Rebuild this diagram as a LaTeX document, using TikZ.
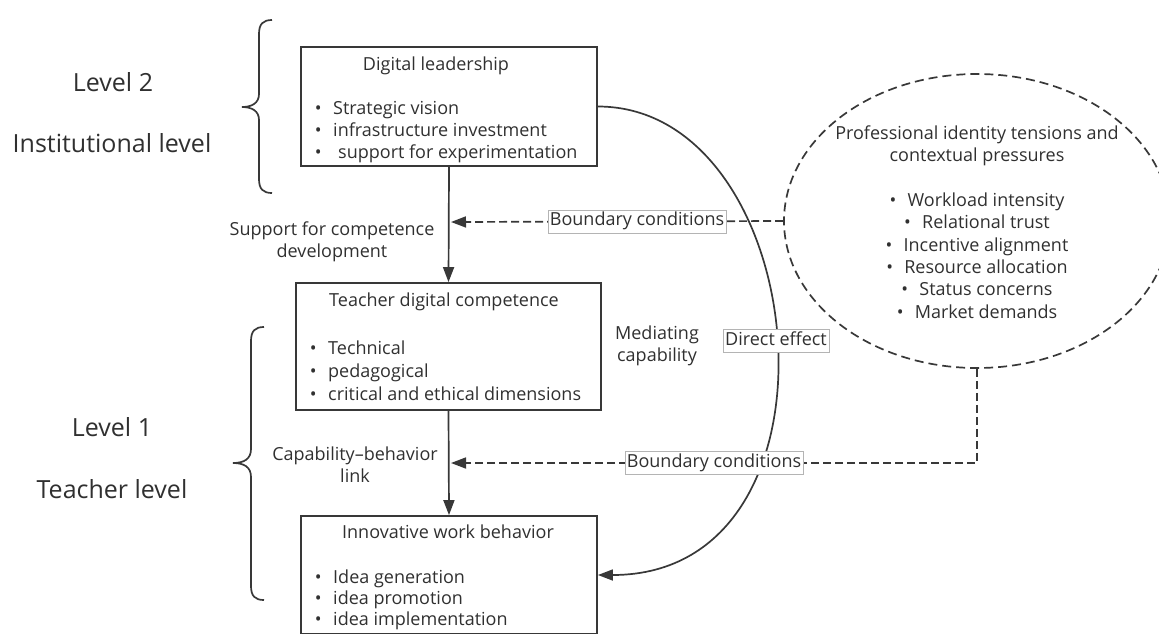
\documentclass[tikz,border=0pt]{standalone}
\usepackage{fontspec}
\setmainfont{Open Sans}
\usetikzlibrary{arrows.meta,shapes.geometric}
\definecolor{ink}{HTML}{303030}
\definecolor{edge}{HTML}{383838}
\definecolor{frame}{HTML}{B4B4B4}
\newcommand{\bul}{\makebox[30pt][c]{•}}
\newcommand{\ebul}{\makebox[18pt][l]{•}}
\begin{document}
\begin{tikzpicture}[x=1pt,y=-1pt,
  every node/.style={text=ink},
  box/.style={draw=edge,line width=1.8pt,inner sep=0pt},
  txt/.style={inner sep=0pt,font=\fontsize{18}{22.3}\selectfont},
  big/.style={inner sep=0pt,font=\fontsize{25}{30}\selectfont},
  flow/.style={draw=edge,line width=1.7pt,-{Triangle[length=15pt,width=11pt]}},
  cond/.style={draw=edge,line width=1.7pt,dash pattern=on 8pt off 4pt,-{Triangle[length=15pt,width=11pt]}},
  lbl/.style={txt,solid,fill=white,draw=frame,line width=0.7pt,inner xsep=2pt,inner ysep=3pt,text height=13pt,text depth=4pt},
  brace/.style={draw=edge,line width=1.7pt},
]
\useasboundingbox (0,0) rectangle (1159,633);

% level captions
\node[big,anchor=base] (l2)  at (113,91)  {Level 2};
\node[big,anchor=base] (l2b) at (112,152) {Institutional level};
\node[big,anchor=base] (l1)  at (112,436) {Level 1};
\node[big,anchor=base] (l1b) at (112,498) {Teacher level};

% curly braces grouping the levels
\path[brace] (272,20) .. controls (263,20) and (259,24) .. (259,34) -- (259,94)
  .. controls (259,103) and (252,107) .. (242,107)
  .. controls (252,107) and (259,111) .. (259,120) -- (259,179)
  .. controls (259,189) and (263,193) .. (272,193);
\path[brace] (264,327) .. controls (255,327) and (251,331) .. (251,341) -- (251,449)
  .. controls (251,459) and (244,463) .. (233,463)
  .. controls (244,463) and (251,467) .. (251,477) -- (251,586)
  .. controls (251,596) and (255,600) .. (264,600);

% main boxes
\node[box,minimum width=296pt,minimum height=119pt] (dl)  at (449,106.5) {};
\node[box,minimum width=305pt,minimum height=127pt] (tdc) at (448.5,346.5) {};
\node[box,minimum width=296pt,minimum height=118pt] (iwb) at (449,575) {};

% box contents
\node[txt,anchor=base] (dlt) at (436,70) {Digital leadership};
\node[txt,anchor=base west] (dl1) at (303,114) {\bul Strategic vision};
\node[txt,anchor=base west] (dl2) at (303,136) {\bul infrastructure investment};
\node[txt,anchor=base west] (dl3) at (303,158) {\bul\hspace{5pt}support for experimentation};

\node[txt,anchor=base] (tdct) at (444,306) {Teacher digital competence};
\node[txt,anchor=base west] (tdc1) at (298,354) {\bul Technical};
\node[txt,anchor=base west] (tdc2) at (298,377) {\bul pedagogical};
\node[txt,anchor=base west] (tdc3) at (298,400) {\bul critical and ethical dimensions};

\node[txt,anchor=base] (iwbt) at (448,538) {Innovative work behavior};
\node[txt,anchor=base west] (iwb1) at (303,583) {\bul Idea generation};
\node[txt,anchor=base west] (iwb2) at (303,604) {\bul idea promotion};
\node[txt,anchor=base west] (iwb3) at (303,625) {\bul idea implementation};

% contextual pressures
\node[ellipse,draw=edge,line width=1.7pt,dash pattern=on 9pt off 5pt,
      minimum width=386pt,minimum height=294pt,inner sep=0pt] (pit) at (977,221) {};
\node[txt,align=center] (pitt) at (977,222) {Professional identity tensions and\\contextual pressures\\[22.3pt]
  \ebul Workload intensity\\\ebul Relational trust\\\ebul Incentive alignment\\
  \ebul Resource allocation\\\ebul Status concerns\\\ebul Market demands};

% path labels
\node[txt,align=center] (sup) at (332,241.5) {Support for competence\\development};
\node[txt,align=center] (med) at (657,345.5) {Mediating\\capability};
\node[txt,align=center] (cbl) at (355,465) {Capability–behavior\\link};

% connectors
\coordinate (bc1) at (451,222);
\coordinate (bc2) at (451,463);
\draw[flow] (dl.south) -- (tdc.north);
\draw[flow] (tdc.south) -- (iwb.north);
\draw[flow] (dl.east) .. controls +(215,0) and +(260,0) .. (iwb.east)
  node[lbl,pos=0.5] (de) {Direct effect};
\draw[cond] (pit.west) -- (bc1) node[lbl,pos=0.44] (bnd1) {Boundary conditions};
\draw[cond] (pit.south) |- (bc2) node[lbl,pos=0.75] (bnd2) {Boundary conditions};
\end{tikzpicture}
\end{document}
